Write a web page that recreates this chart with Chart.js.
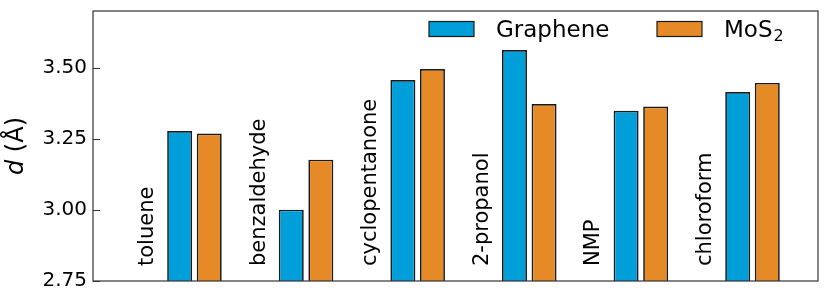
<!DOCTYPE html>
<html>
<head>
<meta charset="utf-8">
<script src="https://cdn.jsdelivr.net/npm/chart.js@4/dist/chart.umd.min.js"></script>
<style>
    body { margin: 0; background: #fff; }
    #wrap { width: 830px; height: 303px; }
</style>
</head>
<body>
<div id="wrap"><canvas id="spacingChart" width="830" height="303"></canvas></div>
<script>
// values
const categories = ['toluene', 'benzaldehyde', 'cyclopentanone', '2-propanol', 'NMP', 'chloroform'];
const graphene = [3.278, 3.001, 3.457, 3.563, 3.349, 3.415];
const mos2 = [3.269, 3.177, 3.496, 3.373, 3.364, 3.447];
const yTicks = [2.75, 3.00, 3.25, 3.50];
// legend names: main text + subscript
const seriesNames = [['Graphene', ''], ['MoS', '2']];

const FONT = "'DejaVu Sans', sans-serif";
const BLUE = '#019fda';
const ORANGE = '#e68a28';
const EDGE = '#1a1a1a';

Chart.defaults.font.family = FONT;
Chart.defaults.color = '#000';

// frame, inward ticks, rotated category names, axis title and legend
const decorations = {
    id: 'decorations',
    afterDraw(chart) {
        const ctx = chart.ctx;
        const area = chart.chartArea;
        const x = chart.scales.x;
        const y = chart.scales.y;

        ctx.save();
        ctx.strokeStyle = '#333';
        ctx.lineWidth = 1.2;
        ctx.strokeRect(area.left, area.top, area.right - area.left, area.bottom - area.top);

        // inward y ticks
        ctx.lineWidth = 1;
        yTicks.forEach(v => {
            const py = Math.round(y.getPixelForValue(v)) + 0.5;
            ctx.beginPath();
            ctx.moveTo(area.left, py);
            ctx.lineTo(area.left + 7, py);
            ctx.stroke();
        });

        // category names, written upward left of each pair of bars
        ctx.fillStyle = '#000';
        ctx.font = '21px ' + FONT;
        ctx.textAlign = 'left';
        ctx.textBaseline = 'middle';
        categories.forEach((name, i) => {
            const px = x.getPixelForValue(i - 0.42);
            const py = y.getPixelForValue(2.75) - 15;
            ctx.save();
            ctx.translate(px, py);
            ctx.rotate(-Math.PI / 2);
            ctx.fillText(name, 0, 0);
            ctx.restore();
        });

        // y axis title: italic d, then (Å)
        ctx.save();
        ctx.translate(17, (area.top + area.bottom) / 2);
        ctx.rotate(-Math.PI / 2);
        ctx.textBaseline = 'middle';
        ctx.font = 'italic 24px ' + FONT;
        const dW = ctx.measureText('d').width;
        ctx.font = '24px ' + FONT;
        const restW = ctx.measureText(' (\u00c5)').width;
        const tx = -(dW + restW) / 2;
        ctx.font = 'italic 24px ' + FONT;
        ctx.fillText('d', tx, 0);
        ctx.font = '24px ' + FONT;
        ctx.fillText(' (\u00c5)', tx + dW, 0);
        ctx.restore();

        // legend in the upper right of the plot
        const items = [
            { box: 429, text: 496, color: BLUE },
            { box: 657, text: 724, color: ORANGE }
        ];
        ctx.textBaseline = 'alphabetic';
        items.forEach((it, i) => {
            ctx.fillStyle = it.color;
            ctx.fillRect(it.box, 21.5, 45, 15);
            ctx.strokeStyle = EDGE;
            ctx.lineWidth = 1.2;
            ctx.strokeRect(it.box, 21.5, 45, 15);
            ctx.fillStyle = '#000';
            ctx.font = '23px ' + FONT;
            ctx.fillText(seriesNames[i][0], it.text, 37);
            if (seriesNames[i][1]) {
                const w = ctx.measureText(seriesNames[i][0]).width;
                ctx.font = '16px ' + FONT;
                ctx.fillText(seriesNames[i][1], it.text + w + 1, 41);
            }
        });
        ctx.restore();
    }
};

const ctx = document.getElementById('spacingChart').getContext('2d');
new Chart(ctx, {
    type: 'bar',
    data: {
        datasets: [
            {
                label: 'Graphene',
                data: graphene.map((v, i) => ({ x: i, y: v })),
                backgroundColor: BLUE,
                borderColor: EDGE,
                borderWidth: 1.7,
                borderSkipped: false
            },
            {
                label: 'MoS2',
                data: mos2.map((v, i) => ({ x: i, y: v })),
                backgroundColor: ORANGE,
                borderColor: EDGE,
                borderWidth: 1.7,
                borderSkipped: false
            }
        ]
    },
    options: {
        responsive: false,
        animation: false,
        categoryPercentage: 0.53,
        barPercentage: 0.845,
        layout: { padding: { top: 11, right: 12, left: 0, bottom: 0 } },
        plugins: {
            legend: { display: false },
            tooltip: { enabled: false }
        },
        scales: {
            x: {
                type: 'linear',
                offset: false,
                min: -0.909,
                max: 5.587,
                grid: { display: false },
                border: { display: false },
                ticks: { display: false },
                afterBuildTicks: s => { s.ticks = categories.map((c, i) => ({ value: i })); },
                afterFit: s => { s.height = 22; s.paddingLeft = 0; s.paddingRight = 0; }
            },
            y: {
                min: 2.75,
                max: 3.70,
                grid: { display: false, drawTicks: false },
                border: { display: false },
                ticks: {
                    padding: 6,
                    font: { size: 20 },
                    color: '#000',
                    callback: v => v.toFixed(2)
                },
                afterBuildTicks: s => { s.ticks = yTicks.map(v => ({ value: v })); },
                afterFit: s => { s.width = 93; s.paddingTop = 0; s.paddingBottom = 0; }
            }
        }
    },
    plugins: [decorations]
});
</script>
</body>
</html>
